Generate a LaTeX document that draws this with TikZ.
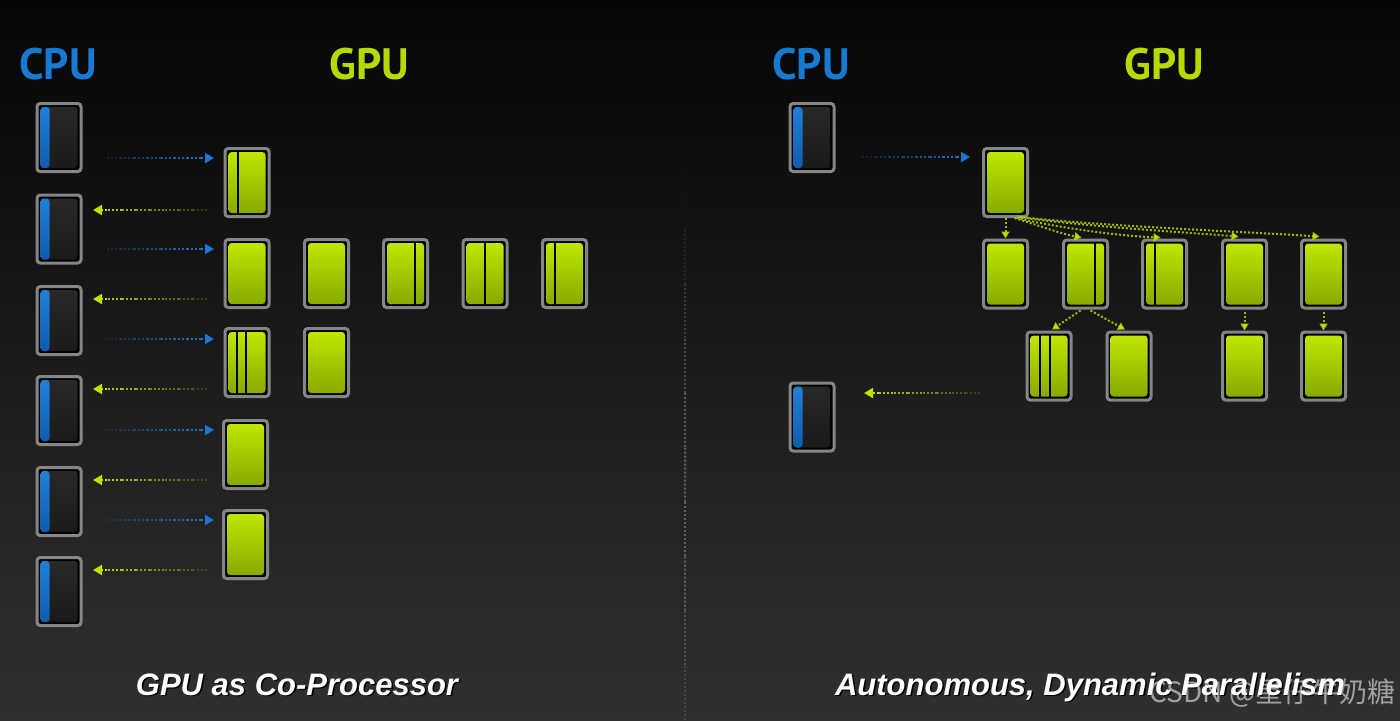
\documentclass[tikz,border=0pt]{standalone}
\usepackage{fontspec}
\setmainfont{Liberation Sans}
\newfontfamily\titlefont{PT Sans}
\newfontfamily\cjkfont{Noto Sans CJK SC}
\usetikzlibrary{arrows.meta,calc}

\definecolor{bgtop}{HTML}{050505}
\definecolor{bgmid}{HTML}{111111}
\definecolor{bgbot}{HTML}{303030}
\definecolor{cpublue}{HTML}{1679D2}
\definecolor{gpugreen}{HTML}{B6D900}
\definecolor{framegray}{HTML}{868686}
\definecolor{gtop}{HTML}{C2EA00}
\definecolor{gmid}{HTML}{ADD400}
\definecolor{gbot}{HTML}{84A600}
\definecolor{btop}{HTML}{1E80D8}
\definecolor{bbot}{HTML}{0F5DAE}
\definecolor{ctop}{HTML}{282828}
\definecolor{cbot}{HTML}{1A1A1A}
\definecolor{arrblue}{HTML}{1A78D0}
\definecolor{arryel}{HTML}{C0E000}
\definecolor{divgray}{HTML}{6A6A6A}

\tikzset{
  box/.style={draw=framegray, line width=1.5pt, rounded corners=1.6pt, fill=black,
    minimum width=22pt, minimum height=34pt, inner sep=0pt},
  gpu/.style={box, path picture={
    \shade[top color=gtop, middle color=gmid, bottom color=gbot]
      ([shift={(1.75pt,-1.75pt)}]path picture bounding box.north west) rectangle
      ([shift={(-1.75pt,1.75pt)}]path picture bounding box.south east);}},
  cpu/.style={box, path picture={
    \coordinate (ppnw) at ([shift={(1.75pt,-1.75pt)}]path picture bounding box.north west);
    \coordinate (ppse) at ([shift={(-1.75pt,1.75pt)}]path picture bounding box.south east);
    \shade[top color=ctop, bottom color=cbot] (ppnw) rectangle (ppse);
    \shade[top color=btop, bottom color=bbot] (ppnw) rectangle ($(ppnw|-ppse)+(4.5pt,0)$);}},
  divl/.style={black, line width=1pt},
  dotline/.style={line width=1pt, dash pattern=on 1pt off 1pt},
  bigtip/.style={-{Triangle[length=4.5pt,width=5pt]}},
  barrow/.style={dotline, draw=arrblue},
  yarrowL/.style={dotline, draw=arryel},
  yarrow/.style={dotline, draw=arryel, draw opacity=0.8, -{Triangle[length=3.5pt,width=4pt]}},
  title/.style={font=\titlefont\bfseries\fontsize{22pt}{24pt}\selectfont, anchor=base, inner sep=0pt},
  caption/.style={font=\bfseries\itshape\fontsize{15.5pt}{17pt}\selectfont, anchor=base, inner sep=0pt},
}

\newcommand\vdiv[2]{\draw[divl] ($(#1.north)+(#2,3.5)$) -- ($(#1.south)+(#2,-3.5)$);}
% fading dotted arrow: #1 style, #2 start (faint), #3 end (tip)
\newcommand\fadearrow[3]{%
  \foreach \k in {0,...,6}{%
    \pgfmathsetmacro\op{0.2+0.8*\k/7}%
    \draw[#1, opacity=\op] ($(#2)!{\k/8}!(#3)$) -- ($(#2)!{(\k+1)/8}!(#3)$);%
  }%
  \draw[#1, bigtip] ($(#2)!0.875!(#3)$) -- (#3);%
}

\begin{document}
\begin{tikzpicture}[x=0.5pt, y=-0.5pt]
\useasboundingbox (0,0) rectangle (1400,720);
\shade[top color=bgtop, middle color=bgmid, bottom color=bgbot] (0,0) rectangle (1400,720);

% divider
\coordinate (dtop) at (685,175);
\coordinate (dbot) at (685,720);
\foreach \k/\op in {0/0.05,1/0.2,2/0.4,3/0.6,4/0.8,5/0.9,6/0.9,7/0.8,8/0.6,9/0.4}{
  \draw[draw=divgray, line width=1pt, dash pattern=on 1pt off 1pt, opacity=\op]
    ($(dtop)!{\k/10}!(dbot)$) -- ($(dtop)!{(\k+1)/10}!(dbot)$);
}

% titles
\node[title, text=cpublue] (tcl) at (58,79) {CPU};
\node[title, text=gpugreen] (tgl) at (369,79) {GPU};
\node[title, text=cpublue] (tcr) at (811,79) {CPU};
\node[title, text=gpugreen] (tgr) at (1164,79) {GPU};

% ---------- left panel ----------
\foreach \y [count=\i] in {137.5,229,320.5,410.5,501.5,591.5}
  \node[cpu] (cl\i) at (59,\y) {};

\node[gpu] (gl1) at (247,182.5) {};
\node[gpu] (gl2) at (247,273.5) {};
\node[gpu] (gl3) at (326.5,273.5) {};
\node[gpu] (gl4) at (405.5,273.5) {};
\node[gpu] (gl5) at (485,273.5) {};
\node[gpu] (gl6) at (564.5,273.5) {};
\node[gpu] (gl7) at (247,362.5) {};
\node[gpu] (gl8) at (326.5,362.5) {};
\node[gpu] (gl9) at (245.5,454.5) {};
\node[gpu] (gl10) at (245.5,544.5) {};

\vdiv{gl1}{-9.5}
\vdiv{gl4}{9.5}
\vdiv{gl5}{0}
\vdiv{gl6}{-9.5}
\vdiv{gl7}{-10}
\vdiv{gl7}{-1}

\foreach \y [count=\i] in {158,249,339,430,520}{
  \coordinate (bs\i) at (107,\y);
  \coordinate (be\i) at (214,\y);
  \fadearrow{barrow}{bs\i}{be\i}
}
\foreach \y [count=\i] in {210,299,389,480,570}{
  \coordinate (ys\i) at (207,\y);
  \coordinate (ye\i) at (93,\y);
  \fadearrow{yarrowL}{ys\i}{ye\i}
}

% ---------- right panel ----------
\node[cpu] (cr1) at (812,137.5) {};
\node[cpu] (cr2) at (812,417) {};

\node[gpu] (gr0) at (1005.5,182.5) {};
\node[gpu] (gr1) at (1005.5,274) {};
\node[gpu] (gr2) at (1085.5,274) {};
\node[gpu] (gr3) at (1164.5,274) {};
\node[gpu] (gr4) at (1244.5,274) {};
\node[gpu] (gr5) at (1323.5,274) {};
\node[gpu] (gs1) at (1049,366) {};
\node[gpu] (gs2) at (1129,366) {};
\node[gpu] (gs3) at (1244.5,366) {};
\node[gpu] (gs4) at (1323.5,366) {};

\vdiv{gr2}{9.5}
\vdiv{gr3}{-9.5}
\vdiv{gs1}{-9}
\vdiv{gs1}{1}

\coordinate (rb1) at (862,157);
\coordinate (rb2) at (970,157);
\fadearrow{barrow}{rb1}{rb2}
\coordinate (ry1) at (980,393);
\coordinate (ry2) at (864,393);
\fadearrow{yarrowL}{ry1}{ry2}

\draw[yarrow] (gr0.south) -- (gr1.north);
\draw[yarrow] ($(gr0.south)+(9,0)$) .. controls (1040,226) and (1062,234) .. ($(gr2.north)+(-4,-1)$);
\draw[yarrow] ($(gr0.south)+(11,0)$) .. controls (1060,228) and (1120,236) .. ($(gr3.north)+(-4,-1)$);
\draw[yarrow] ($(gr0.south)+(13,-1)$) .. controls (1080,226) and (1180,232) .. ($(gr4.north)+(-6,-2)$);
\draw[yarrow] ($(gr0.south)+(15,-1)$) .. controls (1100,226) and (1250,232) .. ($(gr5.north)+(-4,-2)$);

\draw[yarrow] ($(gr2.south)+(-5,1)$) -- ($(gs1.north)+(3,-1)$);
\draw[yarrow] ($(gr2.south)+(5,1)$) -- ($(gs2.north)+(-4,-1)$);
\draw[yarrow] ($(gr4.south)+(0,2)$) -- (gs3.north);
\draw[yarrow] ($(gr5.south)+(0,2)$) -- (gs4.north);

% captions
\node[caption, text=black] (c1s) at (298.5,696.5) {GPU as Co-Processor};
\node[caption, text=white] (c1) at (297,695) {GPU as Co-Processor};
\node[caption, text=black] (c2s) at (1091.5,696.5) {Autonomous, Dynamic Parallelism};
\node[caption, text=white] (c2) at (1090,695) {Autonomous, Dynamic Parallelism};

% watermark
\node[font=\cjkfont\fontsize{14pt}{16pt}\selectfont, text=white, opacity=0.55, anchor=base east, inner sep=0pt] (wm) at (1396,702) {CSDN @星仔牛奶糖};
\end{tikzpicture}
\end{document}
